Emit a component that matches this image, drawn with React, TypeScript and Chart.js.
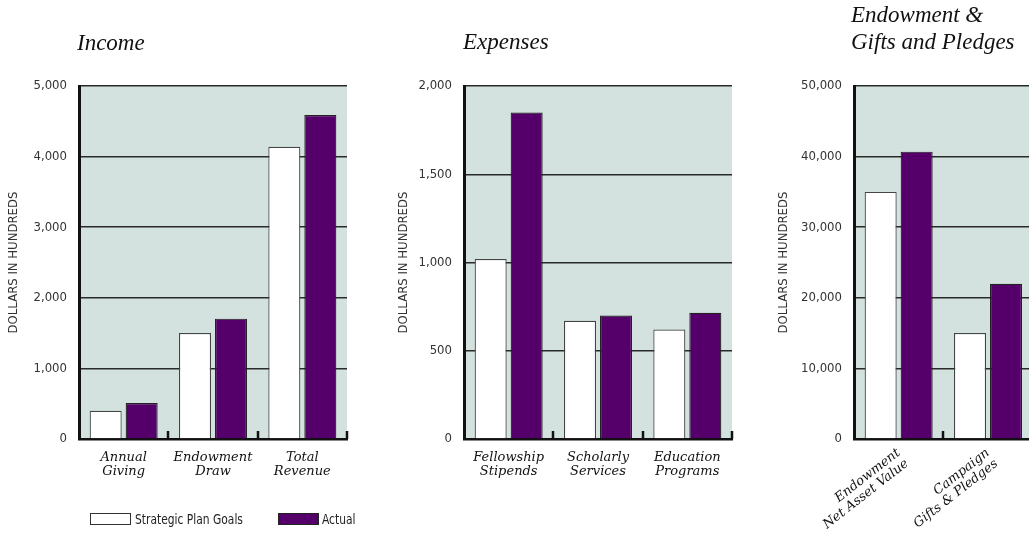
import { useEffect, useRef } from 'react';
import { Chart, registerables } from 'chart.js';

Chart.register(...registerables);

// ---- data ----
const GOAL_LABEL = 'Strategic Plan Goals';
const ACTUAL_LABEL = 'Actual';
const AXIS_TITLE = 'DOLLARS IN HUNDREDS';

const incomeCategories = [['Annual', 'Giving'], ['Endowment', 'Draw'], ['Total', 'Revenue']];
const incomeGoals = [400, 1500, 4140];
const incomeActual = [510, 1705, 4590];
const incomeMax = 5000;
const incomeStep = 1000;

const expenseCategories = [['Fellowship', 'Stipends'], ['Scholarly', 'Services'], ['Education', 'Programs']];
const expenseGoals = [1020, 670, 620];
const expenseActual = [1850, 700, 715];
const expenseMax = 2000;
const expenseStep = 500;

// third slot runs past the page edge
const endowCategories = [['Endowment', 'Net Asset Value'], ['Campaign', 'Gifts & Pledges'], ''];
const endowGoals = [35000, 15000, null];
const endowActual = [40700, 22000, null];
const endowMax = 50000;
const endowStep = 10000;

// ---- styles ----
const PLOT_BG = '#d3e2df';
const PURPLE = '#55006a';
const INK = '#111';
const NARROW = "'Liberation Sans Narrow', 'DejaVu Sans Condensed', 'Roboto', sans-serif";
const SERIF_LABEL = "'DejaVu Serif', serif";
const SERIF_TITLE = "'Liberation Serif', 'DejaVu Serif', serif";

const frame = {
  id: 'frame',
  beforeDraw(chart: any) {
    const { ctx, chartArea: a } = chart;
    ctx.save();
    ctx.fillStyle = PLOT_BG;
    ctx.fillRect(a.left, a.top, a.right - a.left, a.bottom - a.top);
    ctx.restore();
  },
  afterDraw(chart: any) {
    const { ctx, chartArea: a } = chart;
    const x = chart.scales.x;
    const n = chart.data.labels.length;
    ctx.save();
    ctx.strokeStyle = INK;
    ctx.lineWidth = 2.5;
    for (let i = 0; i < n; i++) {
      const px = Math.round(x.getPixelForValue(i + 0.5));
      ctx.beginPath();
      ctx.moveTo(px, a.bottom);
      ctx.lineTo(px, a.bottom - 8);
      ctx.stroke();
    }
    ctx.restore();
  },
};

type PanelProps = {
  left: number;
  categories: any[];
  goals: (number | null)[];
  actual: (number | null)[];
  max: number;
  step: number;
  axisWidth: number;
  titlePad: number;
  rotation: number;
  labelPad: number;
};

function Panel({ left, categories, goals, actual, max, step, axisWidth, titlePad, rotation, labelPad }: PanelProps) {
  const ref = useRef<HTMLCanvasElement>(null);
  useEffect(() => {
    if (!ref.current) return;
    const chart = new Chart(ref.current, {
      type: 'bar',
      data: {
        labels: categories,
        datasets: [
          {
            label: GOAL_LABEL,
            data: goals,
            backgroundColor: '#ffffff',
            borderColor: '#444',
            borderWidth: 1.2,
            categoryPercentage: 0.806,
            barPercentage: 0.889,
          },
          {
            label: ACTUAL_LABEL,
            data: actual,
            backgroundColor: PURPLE,
            borderColor: '#222',
            borderWidth: 1.2,
            categoryPercentage: 0.806,
            barPercentage: 0.889,
          },
        ],
      },
      options: {
        animation: false,
        responsive: false,
        devicePixelRatio: 1,
        layout: { padding: { left: 0, top: 86, right: 380 - axisWidth - 268, bottom: 0 } },
        plugins: { legend: { display: false }, tooltip: { enabled: false }, title: { display: false } },
        scales: {
          x: {
            grid: { display: true, drawOnChartArea: false, drawTicks: false },
            border: { display: true, color: INK, width: 2.5 },
            ticks: {
              autoSkip: false,
              minRotation: rotation,
              maxRotation: rotation,
              padding: labelPad,
              color: INK,
              font: { family: SERIF_LABEL, style: 'italic', size: 13, lineHeight: 1.05 },
            },
            afterFit: (s: any) => {
              s.height = 96;
            },
          },
          y: {
            min: 0,
            max,
            ticks: {
              stepSize: step,
              padding: 12,
              color: '#333',
              font: { family: NARROW, size: 13 },
            },
            grid: { color: '#2a2a2a', lineWidth: 1.5, drawTicks: false },
            border: { display: true, color: INK, width: 3 },
            title: {
              display: true,
              text: AXIS_TITLE,
              color: '#333',
              padding: { top: titlePad, bottom: 0 },
              font: { family: NARROW, size: 13, lineHeight: 1 },
            },
            afterFit: (s: any) => {
              s.width = axisWidth;
            },
          },
        },
      },
      plugins: [frame],
    });
    return () => chart.destroy();
  }, []);
  return (
    <canvas
      ref={ref}
      width={380}
      height={535}
      style={{ position: 'absolute', left, top: 0, width: 380, height: 535 }}
    />
  );
}

const titleStyle: any = {
  position: 'absolute',
  fontFamily: SERIF_TITLE,
  fontStyle: 'italic',
  fontSize: 23,
  lineHeight: '26.7px',
  color: INK,
  whiteSpace: 'nowrap',
};

const legendText: any = {
  position: 'absolute',
  top: 511,
  fontFamily: NARROW,
  fontSize: 14,
  lineHeight: '16px',
  color: '#222',
  whiteSpace: 'nowrap',
  transform: 'scaleX(0.85)',
  transformOrigin: 'left center',
};

const legendBox: any = {
  position: 'absolute',
  top: 512.5,
  width: 41,
  height: 12.5,
  boxSizing: 'border-box',
  border: '1.5px solid #333',
};

export default function App() {
  return (
    <div
      style={{
        position: 'fixed',
        left: 0,
        top: 0,
        width: 1029,
        height: 535,
        overflow: 'hidden',
        background: '#fff',
      }}
    >
      <Panel left={0} categories={incomeCategories} goals={incomeGoals} actual={incomeActual}
        max={incomeMax} step={incomeStep} axisWidth={79} titlePad={7} rotation={0} labelPad={12} />
      <Panel left={380} categories={expenseCategories} goals={expenseGoals} actual={expenseActual}
        max={expenseMax} step={expenseStep} axisWidth={84} titlePad={17} rotation={0} labelPad={12} />
      <Panel left={760} categories={endowCategories} goals={endowGoals} actual={endowActual}
        max={endowMax} step={endowStep} axisWidth={94} titlePad={17} rotation={38} labelPad={7} />

      <div style={{ ...titleStyle, left: 77, top: 29.5 }}>Income</div>
      <div style={{ ...titleStyle, left: 463, top: 29 }}>Expenses</div>
      <div style={{ ...titleStyle, left: 851, top: 2 }}>
        Endowment &amp;
        <br />
        Gifts and Pledges
      </div>

      <div style={{ ...legendBox, left: 90, background: '#fff' }} />
      <div style={{ ...legendText, left: 135 }}>{GOAL_LABEL}</div>
      <div style={{ ...legendBox, left: 278, background: PURPLE, borderColor: '#222' }} />
      <div style={{ ...legendText, left: 322 }}>{ACTUAL_LABEL}</div>
    </div>
  );
}
